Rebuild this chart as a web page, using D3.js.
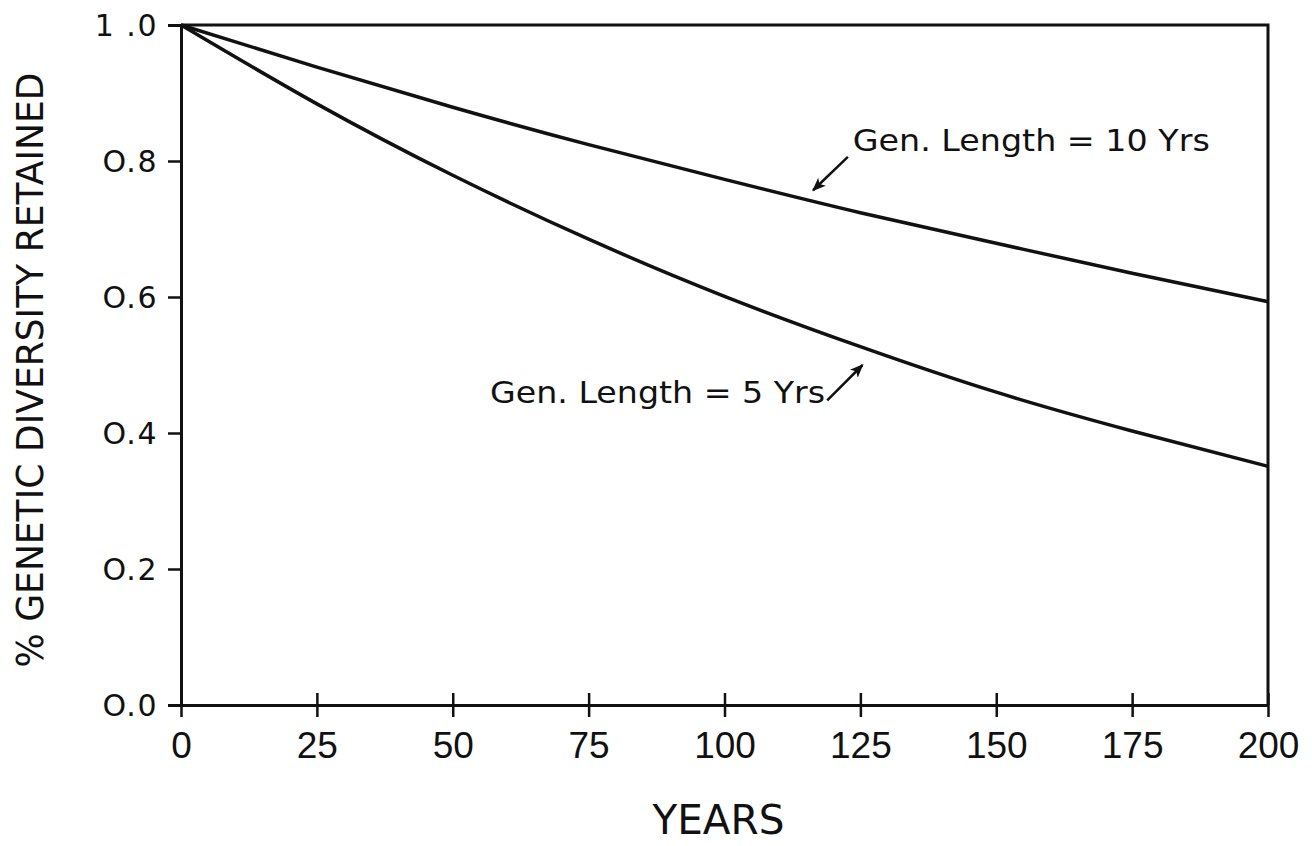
<!DOCTYPE html>
<html>
<head>
<meta charset="utf-8">
<script src="https://cdn.jsdelivr.net/npm/d3@7"></script>
<style>
  html, body { margin: 0; padding: 0; background: #fff; }
  svg { display: block; }
  text { font-family: "DejaVu Sans", "Liberation Sans", sans-serif; fill: #111; }
</style>
</head>
<body>
<svg id="chart" width="1312" height="846"></svg>
<script>
// Years since founding
const years = [0, 25, 50, 75, 100, 125, 150, 175, 200];
// Fraction of genetic diversity retained for two generation lengths
const gen10 = [1.0, 0.938, 0.879, 0.824, 0.773, 0.724, 0.679, 0.635, 0.593];
const gen5  = [1.0, 0.884, 0.779, 0.685, 0.601, 0.527, 0.460, 0.403, 0.351];
const xTicks = [0, 25, 50, 75, 100, 125, 150, 175, 200];
const yTicks = [0.0, 0.2, 0.4, 0.6, 0.8, 1.0];
const yTickLabels = ["O.0", "O.2", "O.4", "O.6", "O.8", "1 .0"];

const svg = d3.select("#chart");
const plotLeft = 181, plotRight = 1268, plotTop = 25, plotBottom = 705;

const x = d3.scaleLinear().domain([0, 200]).range([plotLeft, plotRight]);
const y = d3.scaleLinear().domain([0, 1]).range([plotBottom, plotTop]);

const ink = "#111";

// frame (top and right edges)
svg.append("path")
  .attr("d", `M${plotLeft},${plotTop}H${plotRight}V${plotBottom}`)
  .attr("fill", "none").attr("stroke", ink).attr("stroke-width", 3);

// x axis: ticks crossing the baseline
const xAxis = svg.append("g").attr("transform", `translate(0,${plotBottom})`)
  .call(d3.axisBottom(x).tickValues(xTicks).tickSize(0).tickPadding(30).tickFormat(d3.format("d")));
xAxis.select(".domain").attr("stroke", ink).attr("stroke-width", 3);
xAxis.selectAll(".tick line").remove();
xAxis.selectAll(".tick").append("line")
  .attr("y1", -12).attr("y2", 12).attr("stroke", ink).attr("stroke-width", 2.5);
xAxis.selectAll(".tick text")
  .attr("y", 53).attr("dy", 0)
  .style("font-size", "37px").style("font-family", "\"Liberation Sans\", Arial, sans-serif").attr("fill", ink);

// y axis: outward ticks
const yAxis = svg.append("g").attr("transform", `translate(${plotLeft},0)`)
  .call(d3.axisLeft(y).tickValues(yTicks).tickSize(13).tickPadding(8)
    .tickFormat((d, i) => yTickLabels[i]));
yAxis.select(".domain").attr("stroke", ink).attr("stroke-width", 3);
yAxis.selectAll(".tick line").attr("stroke", ink).attr("stroke-width", 2.5);
yAxis.selectAll(".tick text")
  .attr("x", -23).attr("dy", "0.36em")
  .style("font-size", "30px").style("letter-spacing", "1.5px").attr("fill", ink);

// curves
const line = d3.line()
  .x((d, i) => x(years[i]))
  .y(d => y(d))
  .curve(d3.curveNatural);

[gen10, gen5].forEach(series => {
  svg.append("path")
    .datum(series)
    .attr("d", line)
    .attr("fill", "none")
    .attr("stroke", ink)
    .attr("stroke-width", 3.5)
    .attr("stroke-linejoin", "round");
});

// arrowhead marker
svg.append("defs").append("marker")
  .attr("id", "arrow")
  .attr("viewBox", "0 0 10 10")
  .attr("refX", 9).attr("refY", 5)
  .attr("markerWidth", 5.5).attr("markerHeight", 5.5)
  .attr("markerUnits", "strokeWidth")
  .attr("orient", "auto")
  .append("path")
  .attr("d", "M0,1 L10,5 L0,9 L2.5,5 Z")
  .attr("fill", ink);

// annotations
const notes = [
  { text: "Gen. Length = 10 Yrs", tx: 123.6, ty: 0.815, anchor: "start", len: 357,
    from: [122.7, 0.806], to: [116.3, 0.757] },
  { text: "Gen. Length = 5 Yrs", tx: 118.5, ty: 0.444, anchor: "end", len: 335,
    from: [118.9, 0.448], to: [125.4, 0.500] }
];
notes.forEach(n => {
  svg.append("text")
    .attr("x", x(n.tx)).attr("y", y(n.ty))
    .attr("text-anchor", n.anchor)
    .attr("textLength", n.len).attr("lengthAdjust", "spacingAndGlyphs")
    .style("font-size", "31px")
    .text(n.text);
  svg.append("line")
    .attr("x1", x(n.from[0])).attr("y1", y(n.from[1]))
    .attr("x2", x(n.to[0])).attr("y2", y(n.to[1]))
    .attr("stroke", ink).attr("stroke-width", 2.5)
    .attr("marker-end", "url(#arrow)");
});

// axis titles
svg.append("text")
  .attr("x", (plotLeft + plotRight) / 2 - 6).attr("y", 834)
  .attr("text-anchor", "middle")
  .attr("textLength", 132).attr("lengthAdjust", "spacingAndGlyphs")
  .style("font-size", "41px")
  .text("YEARS");

svg.append("text")
  .attr("transform", `translate(43,${(plotTop + plotBottom) / 2 + 5}) rotate(-90)`)
  .attr("text-anchor", "middle")
  .attr("textLength", 595).attr("lengthAdjust", "spacingAndGlyphs")
  .style("font-size", "38px")
  .text("% GENETIC DIVERSITY RETAINED");
</script>
</body>
</html>
